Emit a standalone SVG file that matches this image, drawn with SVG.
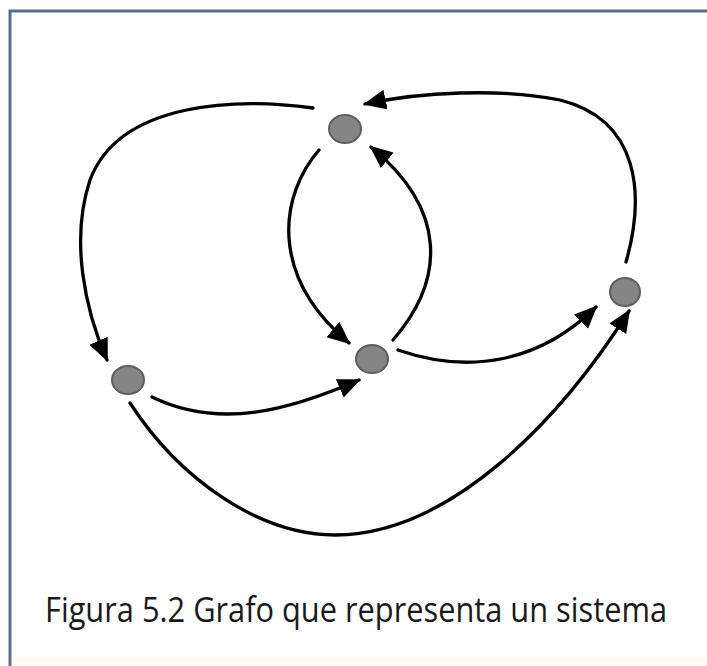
<svg xmlns="http://www.w3.org/2000/svg" width="707" height="666" viewBox="0 0 707 666">
<style>
.frame{fill:none;stroke:#5b6e85;stroke-width:3}
.node{fill:#858585;stroke:#5e5e5e;stroke-width:2}
.edge{fill:none;stroke:#000;stroke-width:3.3;stroke-linecap:round}
.cap{font-family:"Open Sans","Liberation Sans",sans-serif;font-size:34px;fill:#1a1a1a}
</style>
<defs>
<marker id="ah" markerUnits="userSpaceOnUse" markerWidth="26" markerHeight="22" refX="21" refY="10" orient="auto">
<path d="M0,0 L23,10 L0,20 Z" fill="#000"/>
</marker>
</defs>
<rect x="0" y="0" width="707" height="666" fill="#fff"/>
<rect x="11" y="657" width="696" height="9" fill="#fffbf5"/>
<path class="frame" d="M10,666 L10,11 L707,11"/>
<g id="connectors">
<path id="e-top-left" class="edge" marker-end="url(#ah)" d="M313,108 C240,98 120,100 90,180 C70,240 85,310 107,360"/>
<path id="e-right-top" class="edge" marker-end="url(#ah)" d="M626,262 C645,195 640,120 560,100 C500,88 420,92 365,104"/>
<path id="e-top-center" class="edge" marker-end="url(#ah)" d="M319,150 C280,195 268,275 349,343"/>
<path id="e-center-top" class="edge" marker-end="url(#ah)" d="M393,340 C445,280 448,210 371,147"/>
<path id="e-left-center" class="edge" marker-end="url(#ah)" d="M152,397 C220,430 290,410 359,380"/>
<path id="e-center-right" class="edge" marker-end="url(#ah)" d="M398,350 C470,375 540,362 596,307"/>
<path id="e-left-right" class="edge" marker-end="url(#ah)" d="M130,403 C180,480 260,535 335,535 C450,535 560,420 629,311"/>
</g>
<g id="node-top"><ellipse class="node" cx="345" cy="129" rx="16" ry="14"/></g>
<g id="node-left"><ellipse class="node" cx="128" cy="380" rx="16" ry="14"/></g>
<g id="node-center"><ellipse class="node" cx="372" cy="359" rx="16" ry="14"/></g>
<g id="node-right"><ellipse class="node" cx="625" cy="292" rx="15" ry="14"/></g>
<g id="caption"><text class="cap" x="356" y="622" text-anchor="middle" textLength="622" lengthAdjust="spacingAndGlyphs">Figura 5.2 Grafo que representa un sistema</text></g>
</svg>
